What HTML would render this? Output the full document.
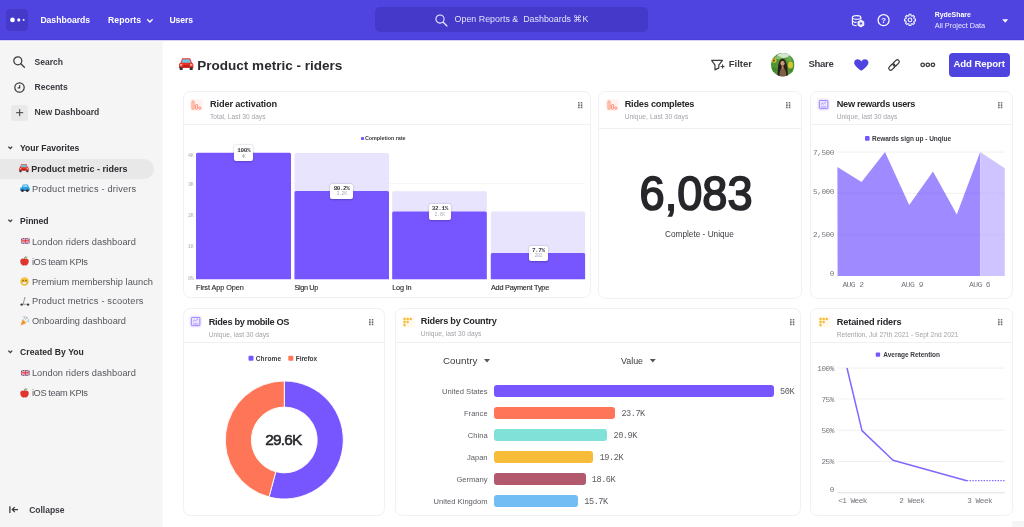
<!DOCTYPE html>
<html lang="en">
<head>
<meta charset="utf-8">
<title>Product metric - riders</title>
<style>
*{box-sizing:border-box;margin:0;padding:0}
html,body{width:1024px;height:527px;overflow:hidden;background:#fff}
body{position:relative;font-family:"Liberation Sans",Arial,sans-serif;color:#26262b}
.a{position:absolute}
svg{position:absolute;overflow:visible}
.t{position:absolute;white-space:nowrap;line-height:1;font-family:"Liberation Sans",Arial,sans-serif}
.m{font-family:"Liberation Mono","DejaVu Sans Mono",monospace}
.card{position:absolute;background:#fff;border:1.3px solid #f1f1f3;border-radius:7.5px}
.card i{position:absolute;left:0;right:0;height:1.2px;background:#f0f0f2}
.grip{position:absolute;width:5px;height:7px}
.grip b{position:absolute;width:1.5px;height:1.5px;background:#66666d;border-radius:50%}
.tip{position:absolute;background:#fff;border-radius:2px;box-shadow:0 0.5px 2px rgba(40,30,90,.35)}
.pb{position:absolute;background:#7856ff;border-radius:1.5px 1.5px 0 0}
.lb{position:absolute;background:#e9e4fd;border-radius:1.5px 1.5px 0 0}
.hb{position:absolute;height:12px;border-radius:3px;left:494px}
</style>
</head>
<body>
<!-- NAV -->
<div class="a" style="left:0;top:0;width:1024px;height:40.3px;background:#4f44e0;border-bottom:1.5px solid #493ed8"></div>
<div class="a" style="left:6.3px;top:9.2px;width:22.2px;height:22px;border-radius:4px;background:#4439c9"></div>
<svg style="left:0;top:0" width="30" height="40" viewBox="0 0 30 40"><circle cx="12.5" cy="19.9" r="2.35" fill="#fff"/><circle cx="18.75" cy="19.9" r="1.55" fill="#fff"/><circle cx="23.65" cy="19.9" r="0.95" fill="#fff"/></svg>
<svg style="left:145.5px;top:17.6px" width="8" height="6" viewBox="0 0 8 6"><path d="M1.2 1.3 L3.9 4 L6.6 1.3" fill="none" stroke="#fff" stroke-width="1.25"/></svg>
<div class="a" style="left:375.3px;top:6.5px;width:273.2px;height:25px;border-radius:5px;background:#4439c9"></div>
<svg style="left:434.5px;top:13.8px" width="13" height="13" viewBox="0 0 13 13"><circle cx="5" cy="5" r="4.1" fill="none" stroke="#f0effd" stroke-width="1.05"/><path d="M8 8 L12 12" stroke="#f0effd" stroke-width="1.15" stroke-linecap="round"/></svg>
<!-- nav right icons -->
<svg style="left:851px;top:14px" width="14" height="14" viewBox="0 0 14 14" fill="none" stroke="#fff" stroke-width="1.1">
  <ellipse cx="5.6" cy="3.4" rx="4.2" ry="1.8"/>
  <path d="M1.4 3.4 V9.8 C1.4 10.8 3.2 11.6 5.6 11.6"/>
  <path d="M9.8 3.4 V5.6"/>
  <path d="M1.4 6.6 C1.4 7.6 3.2 8.4 5.6 8.4"/>
  <path d="M9.9 6.3 L12.7 7.9 V11.1 L9.9 12.7 L7.1 11.1 V7.9 Z" fill="#d9d6f8" stroke-linejoin="round"/>
  <circle cx="9.9" cy="9.5" r="1.1" fill="#4f44e0" stroke="none"/>
</svg>
<svg style="left:876.8px;top:14.2px" width="13" height="13" viewBox="0 0 13 13"><circle cx="6.6" cy="6.2" r="5.5" fill="none" stroke="#fff" stroke-width="1.25"/></svg>
<div class="t" style="left:881.2px;top:16.6px;font-size:7.8px;font-weight:700;color:#fff">?</div>
<svg style="left:904px;top:14.4px" width="12.4" height="12.4" viewBox="0 0 13 13" fill="none" stroke="#fff" stroke-linejoin="round"><path d="M10.67 5.11 L12.11 5.18 L12.11 7.22 L10.67 7.29 L10.16 8.52 L11.13 9.58 L9.68 11.03 L8.62 10.06 L7.39 10.57 L7.32 12.01 L5.28 12.01 L5.21 10.57 L3.98 10.06 L2.92 11.03 L1.47 9.58 L2.44 8.52 L1.93 7.29 L0.49 7.22 L0.49 5.18 L1.93 5.11 L2.44 3.88 L1.47 2.82 L2.92 1.37 L3.98 2.34 L5.21 1.83 L5.28 0.39 L7.32 0.39 L7.39 1.83 L8.62 2.34 L9.68 1.37 L11.13 2.82 L10.16 3.88 Z" stroke-width="1.05"/><circle cx="6.3" cy="6.2" r="1.9" stroke-width="1.05"/></svg>
<svg style="left:1002.2px;top:18.9px" width="7" height="4" viewBox="0 0 7 4"><path d="M0.2 0.2 L6.2 0.2 L3.2 3.7 Z" fill="#fff"/></svg>

<!-- SIDEBAR -->
<div class="a" style="left:0;top:40px;width:1024px;height:1px;background:#d6d3f7"></div>
<div class="a" style="left:0;top:41px;width:162px;height:486px;background:linear-gradient(#fafafa 0,#fafafa 1px,#f5f5f5 1px);border-right:1px solid #f9f9f9;box-sizing:content-box"></div>
<svg style="left:13px;top:55.8px" width="12" height="12" viewBox="0 0 12 12"><circle cx="4.8" cy="4.8" r="4" fill="none" stroke="#3b3b41" stroke-width="1.25"/><path d="M7.8 7.8 L11.4 11.2" stroke="#3b3b41" stroke-width="1.3" stroke-linecap="round"/></svg>
<svg style="left:14.1px;top:81.6px" width="11" height="11" viewBox="0 0 11 11"><circle cx="5.5" cy="5.5" r="4.7" fill="none" stroke="#3b3b41" stroke-width="1.2"/><path d="M5.7 2.9 V5.8 H3.6" fill="none" stroke="#3b3b41" stroke-width="1.15"/></svg>
<div class="a" style="left:11.2px;top:104.5px;width:16.4px;height:16px;border-radius:3px;background:#e9e9e9"></div>
<svg style="left:16px;top:108.8px" width="8" height="8" viewBox="0 0 8 8"><path d="M3.7 0.2 V7.2 M0.2 3.7 H7.2" stroke="#3b3b41" stroke-width="1"/></svg>
<!-- chevrons -->
<svg style="left:8px;top:145.8px" width="5" height="4" viewBox="0 0 5 4"><path d="M0.4 0.6 L2.3 2.6 L4.2 0.6" fill="none" stroke="#3b3b41" stroke-width="1.35"/></svg>
<svg style="left:8px;top:218.6px" width="5" height="4" viewBox="0 0 5 4"><path d="M0.4 0.6 L2.3 2.6 L4.2 0.6" fill="none" stroke="#3b3b41" stroke-width="1.35"/></svg>
<svg style="left:8px;top:350.2px" width="5" height="4" viewBox="0 0 5 4"><path d="M0.4 0.6 L2.3 2.6 L4.2 0.6" fill="none" stroke="#3b3b41" stroke-width="1.35"/></svg>
<div class="a" style="left:0;top:159.3px;width:154.2px;height:19.7px;border-radius:0 10px 10px 0;background:#e8e8e8"></div>
<!-- collapse icon -->
<svg style="left:9px;top:505.8px" width="10" height="8" viewBox="0 0 10 8"><path d="M0.9 0.2 V7 M9 3.6 H3.4 M5.8 1.1 L3.3 3.6 L5.8 6.1" fill="none" stroke="#3b3b41" stroke-width="1.3"/></svg>

<!-- emoji icons (sidebar) -->
<!-- red car front -->
<svg style="left:19.2px;top:164.1px" width="9.8" height="8.3" viewBox="0 0 20 17"><path d="M4.5 0.5 H15.5 L18 6.5 Q20 7 20 9.5 V14 H0 V9.5 Q0 7 2 6.5 Z" fill="#e8302a"/><path d="M5.3 1.6 H14.7 L16.6 6.6 H3.4 Z" fill="#6fc3dc"/><rect x="0.8" y="13" width="4.4" height="3.8" rx="1" fill="#33333a"/><rect x="14.8" y="13" width="4.4" height="3.8" rx="1" fill="#33333a"/><rect x="5.5" y="10" width="9" height="2.6" rx="1" fill="#b3221e"/><rect x="1.3" y="8.6" width="3.4" height="2" rx="1" fill="#ffe0b0"/><rect x="15.3" y="8.6" width="3.4" height="2" rx="1" fill="#ffe0b0"/></svg>
<!-- blue car -->
<svg style="left:19.9px;top:183.8px" width="9.8" height="8.2" viewBox="0 0 20 17"><path d="M7 0.8 H15 Q16 0.8 16.5 2 L18.3 6.6 Q20 7.2 20 9.6 V13 H0 V9.2 Q0 7.4 3.4 6.6 L5.8 1.8 Q6.2 0.8 7 0.8 Z" fill="#27a0e6"/><path d="M7.4 2.2 H14.6 L16.2 6.4 H5.4 Z" fill="#8fd3f2"/><rect x="1" y="12.2" width="18" height="2" fill="#2a4a66"/><circle cx="5" cy="13.8" r="2.7" fill="#2d2d33"/><circle cx="15" cy="13.8" r="2.7" fill="#2d2d33"/></svg>
<!-- UK flags -->
<svg style="left:20.5px;top:238.2px" width="8.6" height="5.8" viewBox="0 0 18 12"><rect width="18" height="12" rx="1.5" fill="#34408f"/><path d="M0 0 L18 12 M18 0 L0 12" stroke="#fff" stroke-width="2.6"/><path d="M0 0 L18 12 M18 0 L0 12" stroke="#d9333f" stroke-width="1"/><path d="M9 0 V12 M0 6 H18" stroke="#fff" stroke-width="4"/><path d="M9 0 V12 M0 6 H18" stroke="#d9333f" stroke-width="2.2"/></svg>
<svg style="left:20.5px;top:369.6px" width="8.6" height="5.8" viewBox="0 0 18 12"><rect width="18" height="12" rx="1.5" fill="#34408f"/><path d="M0 0 L18 12 M18 0 L0 12" stroke="#fff" stroke-width="2.6"/><path d="M0 0 L18 12 M18 0 L0 12" stroke="#d9333f" stroke-width="1"/><path d="M9 0 V12 M0 6 H18" stroke="#fff" stroke-width="4"/><path d="M9 0 V12 M0 6 H18" stroke="#d9333f" stroke-width="2.2"/></svg>
<!-- apples -->
<svg style="left:20.1px;top:256.4px" width="9" height="9.6" viewBox="0 0 18 19"><path d="M9 6 C6 3.5 0.5 4.5 0.5 10.5 C0.5 15.5 4 19 6.5 19 C8 19 8.3 18.4 9 18.4 C9.7 18.4 10 19 11.5 19 C14 19 17.5 15.5 17.5 10.5 C17.5 4.5 12 3.5 9 6 Z" fill="#e0352f"/><path d="M9 6 C9 3.5 9.8 2 11 0.8" stroke="#6b4423" stroke-width="1.4" fill="none"/><path d="M10 3.4 C11.5 1 14.5 1 15.5 1.6 C14.5 3.8 12 4.4 10 3.4 Z" fill="#5ea53a"/></svg>
<svg style="left:20.1px;top:387.8px" width="9" height="9.6" viewBox="0 0 18 19"><path d="M9 6 C6 3.5 0.5 4.5 0.5 10.5 C0.5 15.5 4 19 6.5 19 C8 19 8.3 18.4 9 18.4 C9.7 18.4 10 19 11.5 19 C14 19 17.5 15.5 17.5 10.5 C17.5 4.5 12 3.5 9 6 Z" fill="#e0352f"/><path d="M9 6 C9 3.5 9.8 2 11 0.8" stroke="#6b4423" stroke-width="1.4" fill="none"/><path d="M10 3.4 C11.5 1 14.5 1 15.5 1.6 C14.5 3.8 12 4.4 10 3.4 Z" fill="#5ea53a"/></svg>
<!-- smiley -->
<svg style="left:20.1px;top:277px" width="9" height="9" viewBox="0 0 18 18"><circle cx="9" cy="9" r="8.6" fill="#f8c23c"/><circle cx="6" cy="7" r="1.3" fill="#5b4210"/><circle cx="12" cy="7" r="1.3" fill="#5b4210"/><path d="M4 10 H14 C14 13.5 11.5 15 9 15 C6.5 15 4 13.5 4 10 Z" fill="#fff" stroke="#a06a10" stroke-width="0.8"/></svg>
<!-- scooter -->
<svg style="left:20px;top:296.6px" width="9.6" height="9" viewBox="0 0 19 18"><path d="M8 1.5 H10.5 M9.5 1.5 L6 14.5 H13" fill="none" stroke="#7a7d84" stroke-width="1.6"/><circle cx="3.2" cy="15.2" r="2.4" fill="#33363d"/><circle cx="16" cy="15.2" r="2.4" fill="#33363d"/></svg>
<!-- party popper -->
<svg style="left:20px;top:315.6px" width="9.6" height="10" viewBox="0 0 19 20"><path d="M5.5 6 L13 13.5 L1 19.5 Z" fill="#f2b13d"/><path d="M4.2 9.5 L9 15.5 M2.8 13.5 L5.5 17" stroke="#e2574c" stroke-width="1.5"/><circle cx="13.5" cy="2.5" r="1.2" fill="#e2574c"/><circle cx="17" cy="8" r="1.2" fill="#5a8ee0"/><circle cx="8" cy="1.8" r="1.1" fill="#8d62d9"/><path d="M11 8 C11 5 13 4.5 15.5 5 M13 11 C15 9.5 17 10.5 18 12.5 M8.5 5.5 C9.5 4 9 2.5 10.5 1" fill="none" stroke="#4fb6c8" stroke-width="1.1"/></svg>

<!-- HEADER -->
<svg style="left:179.4px;top:57.8px" width="14.4" height="12.2" viewBox="0 0 20 17"><path d="M4.5 0.5 H15.5 L18 6.5 Q20 7 20 9.5 V14 H0 V9.5 Q0 7 2 6.5 Z" fill="#e8302a"/><path d="M5.3 1.6 H14.7 L16.6 6.6 H3.4 Z" fill="#6fc3dc"/><rect x="0.8" y="13" width="4.4" height="3.8" rx="1" fill="#33333a"/><rect x="14.8" y="13" width="4.4" height="3.8" rx="1" fill="#33333a"/><rect x="5.5" y="10" width="9" height="2.6" rx="1" fill="#b3221e"/><rect x="1.3" y="8.6" width="3.4" height="2" rx="1" fill="#ffe0b0"/><rect x="15.3" y="8.6" width="3.4" height="2" rx="1" fill="#ffe0b0"/></svg>
<!-- filter icon -->
<svg style="left:711px;top:58.6px" width="14" height="12" viewBox="0 0 14 12" fill="none" stroke="#3b3b41" stroke-width="1.2" stroke-linejoin="round"><path d="M0.7 1.3 H11.4 L7.8 6.2 V8.9 L4 10.9 V6.2 Z"/><path d="M11.6 5.6 V9.4 M9.7 7.5 H13.5" stroke-width="1.1"/></svg>
<!-- avatar -->
<svg style="left:770.9px;top:53px" width="23.5" height="23.5" viewBox="0 0 47 47">
  <defs><clipPath id="av"><circle cx="23.5" cy="23.5" r="23.5"/></clipPath></defs>
  <g clip-path="url(#av)">
    <rect width="47" height="47" fill="#4e9636"/>
    <ellipse cx="25" cy="5" rx="12" ry="5" fill="#d5e6cf"/>
    <ellipse cx="14" cy="9" rx="6" ry="3" fill="#8fc07a"/>
    <circle cx="36" cy="12" r="5" fill="#6aa84f"/>
    <circle cx="6.5" cy="15" r="4.6" fill="#e5b92c"/><circle cx="6" cy="15" r="2" fill="#5a4216"/>
    <ellipse cx="39" cy="24" rx="5" ry="7" fill="#d8c433"/>
    <circle cx="41" cy="36" r="4" fill="#3f8a2d"/><circle cx="6" cy="33" r="5" fill="#3f8a2d"/>
    <path d="M13 47 C13 26 15 12 23 12 C31 12 33 26 34 47 Z" fill="#2b1d17"/>
    <ellipse cx="23" cy="20.5" rx="4.2" ry="5.2" fill="#c99a7d"/>
    <path d="M17 47 C17 36 19 30 23.5 30 C28 30 30 36 31 47 Z" fill="#7d5f45"/>
    <path d="M21.5 26 H25 V32 H21.5 Z" fill="#b98a6e"/>
  </g>
</svg>
<!-- heart -->
<svg style="left:853.6px;top:59.4px" width="14.6" height="12.2" viewBox="0 0 24 20"><path d="M12 19.5 C3 13 0.3 9.5 0.3 5.8 C0.3 2.6 2.8 0.3 5.9 0.3 C8.3 0.3 10.6 1.6 12 3.9 C13.4 1.6 15.7 0.3 18.1 0.3 C21.2 0.3 23.7 2.6 23.7 5.8 C23.7 9.5 21 13 12 19.5 Z" fill="#4f44e0"/></svg>
<!-- link -->
<svg style="left:888.4px;top:58.8px" width="12" height="12" viewBox="0 0 12 12" fill="none" stroke="#3b3b41" stroke-width="1.25"><g transform="rotate(-45 6 6)"><rect x="-0.6" y="4.05" width="7.3" height="3.9" rx="1.95"/><rect x="5.3" y="4.05" width="7.3" height="3.9" rx="1.95"/></g></svg>
<!-- ooo -->
<svg style="left:920px;top:62px" width="16" height="6" viewBox="0 0 16 6" fill="none" stroke="#3b3b41" stroke-width="1.35"><circle cx="2.7" cy="2.8" r="1.75"/><circle cx="7.8" cy="2.8" r="1.75"/><circle cx="12.9" cy="2.8" r="1.75"/></svg>
<div class="a" style="left:948.6px;top:53.3px;width:61.6px;height:23.3px;border-radius:4px;background:#4f44e0"></div>

<!-- CARDS -->
<div class="card" style="left:182.6px;top:90.6px;width:408px;height:207.8px"><i style="top:32.1px"></i></div>
<div class="card" style="left:598.4px;top:90.6px;width:203.2px;height:208px"><i style="top:36px"></i></div>
<div class="card" style="left:810px;top:90.6px;width:202.6px;height:208px"><i style="top:32.1px"></i></div>
<div class="card" style="left:182.6px;top:308px;width:202.8px;height:208.4px"><i style="top:32.6px"></i></div>
<div class="card" style="left:394.6px;top:308px;width:406px;height:208.4px"><i style="top:32.6px"></i></div>
<div class="card" style="left:810px;top:308px;width:202.6px;height:207.6px"><i style="top:32.6px"></i></div>
<div class="a" style="left:1012px;top:520.6px;width:12px;height:7px;background:#f5f5f5"></div>

<!-- charts -->
<svg style="left:577.8px;top:102px" width="5" height="7" viewBox="0 0 5 7"><rect x="0" y="0" width="1.7" height="1.6" rx="0.5" fill="#6e6e75"/><rect x="0" y="2.3" width="1.7" height="1.6" rx="0.5" fill="#6e6e75"/><rect x="0" y="4.6" width="1.7" height="1.6" rx="0.5" fill="#6e6e75"/><rect x="2.7" y="0" width="1.7" height="1.6" rx="0.5" fill="#6e6e75"/><rect x="2.7" y="2.3" width="1.7" height="1.6" rx="0.5" fill="#6e6e75"/><rect x="2.7" y="4.6" width="1.7" height="1.6" rx="0.5" fill="#6e6e75"/></svg>
<svg style="left:786.4px;top:102px" width="5" height="7" viewBox="0 0 5 7"><rect x="0" y="0" width="1.7" height="1.6" rx="0.5" fill="#6e6e75"/><rect x="0" y="2.3" width="1.7" height="1.6" rx="0.5" fill="#6e6e75"/><rect x="0" y="4.6" width="1.7" height="1.6" rx="0.5" fill="#6e6e75"/><rect x="2.7" y="0" width="1.7" height="1.6" rx="0.5" fill="#6e6e75"/><rect x="2.7" y="2.3" width="1.7" height="1.6" rx="0.5" fill="#6e6e75"/><rect x="2.7" y="4.6" width="1.7" height="1.6" rx="0.5" fill="#6e6e75"/></svg>
<svg style="left:997.6px;top:102px" width="5" height="7" viewBox="0 0 5 7"><rect x="0" y="0" width="1.7" height="1.6" rx="0.5" fill="#6e6e75"/><rect x="0" y="2.3" width="1.7" height="1.6" rx="0.5" fill="#6e6e75"/><rect x="0" y="4.6" width="1.7" height="1.6" rx="0.5" fill="#6e6e75"/><rect x="2.7" y="0" width="1.7" height="1.6" rx="0.5" fill="#6e6e75"/><rect x="2.7" y="2.3" width="1.7" height="1.6" rx="0.5" fill="#6e6e75"/><rect x="2.7" y="4.6" width="1.7" height="1.6" rx="0.5" fill="#6e6e75"/></svg>
<svg style="left:368.8px;top:319px" width="5" height="7" viewBox="0 0 5 7"><rect x="0" y="0" width="1.7" height="1.6" rx="0.5" fill="#6e6e75"/><rect x="0" y="2.3" width="1.7" height="1.6" rx="0.5" fill="#6e6e75"/><rect x="0" y="4.6" width="1.7" height="1.6" rx="0.5" fill="#6e6e75"/><rect x="2.7" y="0" width="1.7" height="1.6" rx="0.5" fill="#6e6e75"/><rect x="2.7" y="2.3" width="1.7" height="1.6" rx="0.5" fill="#6e6e75"/><rect x="2.7" y="4.6" width="1.7" height="1.6" rx="0.5" fill="#6e6e75"/></svg>
<svg style="left:789.6px;top:319px" width="5" height="7" viewBox="0 0 5 7"><rect x="0" y="0" width="1.7" height="1.6" rx="0.5" fill="#6e6e75"/><rect x="0" y="2.3" width="1.7" height="1.6" rx="0.5" fill="#6e6e75"/><rect x="0" y="4.6" width="1.7" height="1.6" rx="0.5" fill="#6e6e75"/><rect x="2.7" y="0" width="1.7" height="1.6" rx="0.5" fill="#6e6e75"/><rect x="2.7" y="2.3" width="1.7" height="1.6" rx="0.5" fill="#6e6e75"/><rect x="2.7" y="4.6" width="1.7" height="1.6" rx="0.5" fill="#6e6e75"/></svg>
<svg style="left:997.6px;top:319px" width="5" height="7" viewBox="0 0 5 7"><rect x="0" y="0" width="1.7" height="1.6" rx="0.5" fill="#6e6e75"/><rect x="0" y="2.3" width="1.7" height="1.6" rx="0.5" fill="#6e6e75"/><rect x="0" y="4.6" width="1.7" height="1.6" rx="0.5" fill="#6e6e75"/><rect x="2.7" y="0" width="1.7" height="1.6" rx="0.5" fill="#6e6e75"/><rect x="2.7" y="2.3" width="1.7" height="1.6" rx="0.5" fill="#6e6e75"/><rect x="2.7" y="4.6" width="1.7" height="1.6" rx="0.5" fill="#6e6e75"/></svg>
<svg style="left:189.8px;top:98.6px" width="12.4" height="12" viewBox="0 0 12.4 12"><rect width="12.4" height="12" rx="2" fill="#fff2ef"/><rect x="2" y="1.9" width="2.1" height="8.4" rx="0.8" fill="#ffe3dc" stroke="#ff7557" stroke-width="0.75"/><rect x="5.5" y="5.5" width="2.1" height="4.8" rx="0.8" fill="#ffe3dc" stroke="#ff7557" stroke-width="0.75"/><rect x="8.7" y="7.9" width="2.1" height="2.4" rx="0.8" fill="#ffe3dc" stroke="#ff7557" stroke-width="0.75"/></svg>
<svg style="left:605.8px;top:98.6px" width="12.4" height="12" viewBox="0 0 12.4 12"><rect width="12.4" height="12" rx="2" fill="#fff2ef"/><rect x="2" y="1.9" width="2.1" height="8.4" rx="0.8" fill="#ffe3dc" stroke="#ff7557" stroke-width="0.75"/><rect x="5.5" y="5.5" width="2.1" height="4.8" rx="0.8" fill="#ffe3dc" stroke="#ff7557" stroke-width="0.75"/><rect x="8.7" y="7.9" width="2.1" height="2.4" rx="0.8" fill="#ffe3dc" stroke="#ff7557" stroke-width="0.75"/></svg>
<svg style="left:817px;top:98px" width="13" height="13" viewBox="0 0 13 13"><rect width="13" height="13" rx="2.5" fill="#f6f3ff"/><rect x="2.3" y="2.4" width="8.6" height="8.3" rx="0.8" fill="#ece6ff" stroke="#9b7dff" stroke-width="1"/><path d="M3.9 6.6 L5.4 5.2 L6.4 6.1 L8.9 3.9" fill="none" stroke="#9b7dff" stroke-width="0.8"/><path d="M4 8.9 H9.2" stroke="#b9a4ff" stroke-width="1.2"/></svg>
<svg style="left:189.2px;top:315.4px" width="13" height="13" viewBox="0 0 13 13"><rect width="13" height="13" rx="2.5" fill="#f6f3ff"/><rect x="2.3" y="2.4" width="8.6" height="8.3" rx="0.8" fill="#ece6ff" stroke="#9b7dff" stroke-width="1"/><path d="M3.9 6.6 L5.4 5.2 L6.4 6.1 L8.9 3.9" fill="none" stroke="#9b7dff" stroke-width="0.8"/><path d="M4 8.9 H9.2" stroke="#b9a4ff" stroke-width="1.2"/></svg>
<svg style="left:401.6px;top:316.2px" width="12.6" height="12" viewBox="0 0 12.6 12"><rect width="12.6" height="12" rx="2" fill="#fffaf0"/><rect x="1.3" y="1.8" width="2.5" height="2.4" rx="0.9" fill="#f8bc3b"/><rect x="4.4" y="1.8" width="2.5" height="2.4" rx="0.9" fill="#f8bc3b"/><rect x="7.5" y="1.8" width="2.5" height="2.4" rx="0.9" fill="#f8bc3b"/><rect x="1.3" y="4.8" width="2.5" height="2.4" rx="0.9" fill="#f8bc3b"/><rect x="4.4" y="4.8" width="2.5" height="2.4" rx="0.9" fill="#f8bc3b"/><rect x="1.3" y="7.8" width="2.5" height="2.4" rx="0.9" fill="#f8bc3b"/></svg>
<svg style="left:817.9px;top:316.2px" width="12.6" height="12" viewBox="0 0 12.6 12"><rect width="12.6" height="12" rx="2" fill="#fffaf0"/><rect x="1.3" y="1.8" width="2.5" height="2.4" rx="0.9" fill="#f8bc3b"/><rect x="4.4" y="1.8" width="2.5" height="2.4" rx="0.9" fill="#f8bc3b"/><rect x="7.5" y="1.8" width="2.5" height="2.4" rx="0.9" fill="#f8bc3b"/><rect x="1.3" y="4.8" width="2.5" height="2.4" rx="0.9" fill="#f8bc3b"/><rect x="4.4" y="4.8" width="2.5" height="2.4" rx="0.9" fill="#f8bc3b"/><rect x="1.3" y="7.8" width="2.5" height="2.4" rx="0.9" fill="#f8bc3b"/></svg>
<div class="a" style="left:196px;top:183px;width:389px;height:1px;background:#f7f7f9"></div>
<svg style="left:0;top:0" width="1024" height="527" viewBox="0 0 1024 527"><path d="M196 279.2 V154.3 Q196 152.8 197.5 152.8 H289.5 Q291 152.8 291 154.3 V279.2 Z" fill="#7856ff"/><path d="M294.5 279.2 V154.5 Q294.5 153 296.0 153 H387.5 Q389 153 389 154.5 V279.2 Z" fill="#e9e4fd"/><path d="M294.5 279.2 V192.4 Q294.5 190.9 296.0 190.9 H387.5 Q389 190.9 389 192.4 V279.2 Z" fill="#7856ff"/><path d="M392.2 279.2 V192.8 Q392.2 191.3 393.7 191.3 H485.3 Q486.8 191.3 486.8 192.8 V279.2 Z" fill="#e9e4fd"/><path d="M392.2 279.2 V212.9 Q392.2 211.4 393.7 211.4 H485.3 Q486.8 211.4 486.8 212.9 V279.2 Z" fill="#7856ff"/><path d="M490.8 279.2 V213.0 Q490.8 211.5 492.3 211.5 H583.6 Q585.1 211.5 585.1 213.0 V279.2 Z" fill="#e9e4fd"/><path d="M490.8 279.2 V254.4 Q490.8 252.9 492.3 252.9 H583.6 Q585.1 252.9 585.1 254.4 V279.2 Z" fill="#7856ff"/></svg>
<div class="tip" style="left:234px;top:145px;width:18.8px;height:16.2px"></div>
<div class="tip" style="left:330.4px;top:183.6px;width:22.6px;height:15.2px"></div>
<div class="tip" style="left:428.6px;top:204.4px;width:22.6px;height:15.2px"></div>
<div class="tip" style="left:529.1px;top:245.8px;width:18.6px;height:15.2px"></div>
<div class="a" style="left:360.5px;top:136.7px;width:3.4px;height:3.4px;border-radius:0.7px;background:#7856ff"></div>
<svg style="left:0;top:0" width="1024" height="527" viewBox="0 0 1024 527"><path d="M837.6 152 H1004.8" stroke="#f0f0f2" stroke-width="1"/><path d="M837.6 193.3 H1004.8" stroke="#f0f0f2" stroke-width="1"/><path d="M837.6 234.7 H1004.8" stroke="#f0f0f2" stroke-width="1"/><path d="M837.4 167 L861.6 182 L885 152 L909.2 205 L933 171.6 L956.8 214.6 L980.2 152 L980.2 276 L837.6 276 Z" fill="#a08aff"/><path d="M980.2 152 L1004.8 168.3 L1004.8 276 L980.2 276 Z" fill="#cfc4ff"/><defs><clipPath id="ca"><path d="M837.4 167 L861.6 182 L885 152 L909.2 205 L933 171.6 L956.8 214.6 L980.2 152 L980.2 276 L837.6 276 Z"/></clipPath><clipPath id="cb"><path d="M980.2 152 L1004.8 168.3 L1004.8 276 L980.2 276 Z"/></clipPath></defs><path clip-path="url(#ca)" d="M837.6 193.3 H1004.8 M837.6 234.7 H1004.8" stroke="#9982fb" stroke-width="0.8"/><path clip-path="url(#cb)" d="M837.6 193.3 H1004.8 M837.6 234.7 H1004.8" stroke="#c8bcfd" stroke-width="0.8"/><rect x="865" y="136.1" width="4.6" height="4.6" rx="0.8" fill="#7856ff"/><path d="M837.4 368 H1004.8" stroke="#f0f0f2" stroke-width="1"/><path d="M837.4 398.9 H1004.8" stroke="#f0f0f2" stroke-width="1"/><path d="M837.4 430.2 H1004.8" stroke="#f0f0f2" stroke-width="1"/><path d="M837.4 461.5 H1004.8" stroke="#f0f0f2" stroke-width="1"/><path d="M837.4 492.8 H1004.8" stroke="#dcdce2" stroke-width="0.9"/><path d="M847 368 L862 430.6 L893 460.2 L966.8 480.7" fill="none" stroke="#8465ff" stroke-width="1.5" stroke-linejoin="round"/><path d="M966.8 480.7 H1005.7" fill="none" stroke="#8465ff" stroke-width="1.3" stroke-dasharray="1.4 1.4"/><rect x="875.8" y="352.5" width="4.3" height="4.3" rx="0.8" fill="#7856ff"/><path d="M284.30 381.00 A59 59 0 1 1 269.03 496.99 L275.78 471.78 A32.9 32.9 0 1 0 284.30 407.10 Z" fill="#7856ff" stroke="#fff" stroke-width="0.9"/><path d="M269.03 496.99 A59 59 0 0 1 284.30 381.00 L284.30 407.10 A32.9 32.9 0 0 0 275.78 471.78 Z" fill="#ff7557" stroke="#fff" stroke-width="0.9"/><rect x="248.5" y="355.8" width="5" height="5" rx="1" fill="#7856ff"/><rect x="288.3" y="355.8" width="5" height="5" rx="1" fill="#ff7557"/><path d="M484 359 H490 L487 362.4 Z" fill="#55555c"/><path d="M649.8 359 H655.8 L652.8 362.4 Z" fill="#55555c"/></svg>
<div class="hb" style="top:385.2px;width:279.8px;background:#7856ff"></div>
<div class="hb" style="top:407.2px;width:121.1px;background:#ff7557"></div>
<div class="hb" style="top:429.2px;width:113.2px;background:#80e1d9"></div>
<div class="hb" style="top:451.2px;width:99.4px;background:#f8bc3b"></div>
<div class="hb" style="top:473.2px;width:91.5px;background:#b2596e"></div>
<div class="hb" style="top:495.2px;width:84.0px;background:#72bef4"></div>

<!-- text -->
<div class="t" style="left:40.4px;top:16px;font-size:8.65px;font-weight:700;color:#fff;letter-spacing:-0.021px">Dashboards</div>
<div class="t" style="left:108px;top:16px;font-size:8.65px;font-weight:700;color:#fff;letter-spacing:0.086px">Reports</div>
<div class="t" style="left:169.5px;top:16px;font-size:8.65px;font-weight:700;color:#fff;letter-spacing:-0.136px">Users</div>
<div class="t" style="left:454.6px;top:15px;font-size:8.89px;color:#e2e0fa">Open Reports &amp;&nbsp; Dashboards ⌘K</div>
<div class="t" style="left:934.7px;top:12px;font-size:6.91px;font-weight:700;color:#fff">RydeShare</div>
<div class="t" style="left:934.7px;top:22px;font-size:7.33px;color:#ecebfd">All Project Data</div>
<div class="t" style="left:34.5px;top:58px;font-size:8.55px;font-weight:700;color:#3b3b41;letter-spacing:-0.004px">Search</div>
<div class="t" style="left:34.5px;top:83px;font-size:8.55px;font-weight:700;color:#3b3b41;letter-spacing:-0.011px">Recents</div>
<div class="t" style="left:34.5px;top:108px;font-size:8.55px;font-weight:700;color:#3b3b41;letter-spacing:0.016px">New Dashboard</div>
<div class="t" style="left:20.0px;top:144px;font-size:8.6px;font-weight:700;color:#2a2a2f;letter-spacing:-0.021px">Your Favorites</div>
<div class="t" style="left:31.3px;top:165px;font-size:8.97px;font-weight:700;color:#2a2a2f">Product metric - riders</div>
<div class="t" style="left:31.9px;top:185px;font-size:9.25px;color:#55555c;letter-spacing:0.17px">Product metrics - drivers</div>
<div class="t" style="left:20.1px;top:217px;font-size:8.6px;font-weight:700;color:#2a2a2f;letter-spacing:-0.034px">Pinned</div>
<div class="t" style="left:31.9px;top:238px;font-size:9.25px;color:#55555c;letter-spacing:0.052px">London riders dashboard</div>
<div class="t" style="left:31.9px;top:258px;font-size:9.25px;color:#55555c;letter-spacing:-0.38px">iOS team KPIs</div>
<div class="t" style="left:31.9px;top:278px;font-size:9.25px;color:#55555c;letter-spacing:0.033px">Premium membership launch</div>
<div class="t" style="left:31.9px;top:297px;font-size:9.25px;color:#55555c;letter-spacing:0.167px">Product metrics - scooters</div>
<div class="t" style="left:31.9px;top:317px;font-size:9.25px;color:#55555c;letter-spacing:-0.028px">Onboarding dashboard</div>
<div class="t" style="left:20.1px;top:348px;font-size:8.6px;font-weight:700;color:#2a2a2f;letter-spacing:0.043px">Created By You</div>
<div class="t" style="left:31.9px;top:369px;font-size:9.25px;color:#55555c;letter-spacing:0.052px">London riders dashboard</div>
<div class="t" style="left:31.9px;top:389px;font-size:9.25px;color:#55555c;letter-spacing:-0.38px">iOS team KPIs</div>
<div class="t" style="left:29.2px;top:506px;font-size:8.55px;font-weight:700;color:#3b3b41;letter-spacing:-0.034px">Collapse</div>
<div class="t" style="left:197.3px;top:59px;font-size:13.52px;font-weight:700;color:#2a2a2f">Product metric - riders</div>
<div class="t" style="left:728.8px;top:59px;font-size:9.6px;font-weight:700;color:#3b3b41;letter-spacing:-0.054px">Filter</div>
<div class="t" style="left:808.4px;top:59px;font-size:9.6px;font-weight:700;color:#3b3b41;letter-spacing:-0.321px">Share</div>
<div class="t" style="left:953.5px;top:59px;font-size:9.6px;font-weight:700;color:#fff;letter-spacing:-0.085px">Add Report</div>
<div class="t" style="left:210px;top:100px;font-size:9.2px;font-weight:700;color:#26262b;letter-spacing:-0.121px">Rider activation</div>
<div class="t" style="left:210px;top:114px;font-size:6.65px;color:#a3a3aa;letter-spacing:0.008px">Total, Last 30 days</div>
<div class="t" style="left:624.7px;top:100px;font-size:9.2px;font-weight:700;color:#26262b;letter-spacing:-0.23px">Rides completes</div>
<div class="t" style="left:624.7px;top:114px;font-size:6.65px;color:#a3a3aa;letter-spacing:0.064px">Unique, Last 30 days</div>
<div class="t" style="left:836.8px;top:100px;font-size:9.2px;font-weight:700;color:#26262b;letter-spacing:-0.323px">New rewards users</div>
<div class="t" style="left:836.8px;top:114px;font-size:6.65px;color:#a3a3aa;letter-spacing:0.023px">Unique, last 30 days</div>
<div class="t" style="left:208.8px;top:318px;font-size:9.2px;font-weight:700;color:#26262b;letter-spacing:-0.329px">Rides by mobile OS</div>
<div class="t" style="left:208.8px;top:332px;font-size:6.65px;color:#a3a3aa;letter-spacing:0.023px">Unique, last 30 days</div>
<div class="t" style="left:420.8px;top:317px;font-size:9.2px;font-weight:700;color:#26262b;letter-spacing:-0.228px">Riders by Country</div>
<div class="t" style="left:420.8px;top:331px;font-size:6.65px;color:#a3a3aa;letter-spacing:0.023px">Unique, last 30 days</div>
<div class="t" style="left:836.8px;top:318px;font-size:9.2px;font-weight:700;color:#26262b;letter-spacing:-0.148px">Retained riders</div>
<div class="t" style="left:836.8px;top:332px;font-size:6.65px;color:#a3a3aa;letter-spacing:0.011px">Retention, Jul 27th 2021 - Sept 2nd 2021</div>
<div class="t" style="left:365px;top:136px;font-size:5.4px;font-weight:700;color:#3b3b41;letter-spacing:-0.043px">Completion rate</div>
<div class="t m" style="left:188px;top:154px;font-size:4.95px;color:#aaaab2;letter-spacing:-0.27px">4K</div>
<div class="t m" style="left:188px;top:183px;font-size:4.95px;color:#aaaab2;letter-spacing:-0.27px">3K</div>
<div class="t m" style="left:188px;top:214px;font-size:4.95px;color:#aaaab2;letter-spacing:-0.27px">2K</div>
<div class="t m" style="left:188px;top:245px;font-size:4.95px;color:#aaaab2;letter-spacing:-0.27px">1K</div>
<div class="t m" style="left:188px;top:277px;font-size:4.95px;color:#aaaab2;letter-spacing:-0.27px">0%</div>
<div class="t" style="left:196px;top:284px;font-size:7.3px;color:#2a2a2f;letter-spacing:-0.069px;-webkit-text-stroke:0.12px #2a2a2f">First App Open</div>
<div class="t" style="left:294.6px;top:284px;font-size:7.3px;color:#2a2a2f;letter-spacing:-0.395px;-webkit-text-stroke:0.12px #2a2a2f">Sign Up</div>
<div class="t" style="left:392.2px;top:284px;font-size:7.3px;color:#2a2a2f;letter-spacing:-0.159px;-webkit-text-stroke:0.12px #2a2a2f">Log In</div>
<div class="t" style="left:490.9px;top:284px;font-size:7.3px;color:#2a2a2f;letter-spacing:-0.21px;-webkit-text-stroke:0.12px #2a2a2f">Add Payment Type</div>
<div class="t m" style="left:237.3px;top:148px;font-size:6.0px;font-weight:700;color:#3b3b41;letter-spacing:-0.401px">100%</div>
<div class="t m" style="left:241.7px;top:155px;font-size:4.85px;color:#b0b0b8;letter-spacing:-1.522px">4K</div>
<div class="t m" style="left:333.7px;top:186px;font-size:6.0px;font-weight:700;color:#3b3b41;letter-spacing:-0.476px">80.2%</div>
<div class="t m" style="left:336.4px;top:192px;font-size:4.85px;color:#b0b0b8;letter-spacing:-0.314px">3.2K</div>
<div class="t m" style="left:431.7px;top:206px;font-size:6.0px;font-weight:700;color:#3b3b41;letter-spacing:-0.326px">32.1%</div>
<div class="t m" style="left:434.6px;top:213px;font-size:4.85px;color:#b0b0b8;letter-spacing:-0.347px">2.6K</div>
<div class="t m" style="left:531.9px;top:248px;font-size:6.0px;font-weight:700;color:#3b3b41;letter-spacing:-0.434px">7.7%</div>
<div class="t m" style="left:534.5px;top:254px;font-size:4.85px;color:#b0b0b8;letter-spacing:-0.416px">202</div>
<div class="t" style="left:639.6px;top:172px;font-size:45.15px;color:#26262b;-webkit-text-stroke:1.6px #26262b;transform:scaleY(1.045);transform-origin:50% 85%">6,083</div>
<div class="t" style="left:665px;top:231px;font-size:8.26px;color:#3b3b41">Complete - Unique</div>
<div class="t" style="left:872px;top:136px;font-size:6.5px;font-weight:700;color:#3b3b41;letter-spacing:-0.035px">Rewards sign up - Unqiue</div>
<div class="t m" style="right:190px;top:150px;font-size:7.7px;color:#77777f;letter-spacing:-0.42px">7,500</div>
<div class="t m" style="right:190px;top:189px;font-size:7.7px;color:#77777f;letter-spacing:-0.42px">5,000</div>
<div class="t m" style="right:190px;top:232px;font-size:7.7px;color:#77777f;letter-spacing:-0.42px">2,500</div>
<div class="t m" style="right:190px;top:271px;font-size:7.7px;color:#77777f;letter-spacing:-0.42px">0</div>
<div class="t m" style="left:842.4px;top:281px;font-size:8.0px;color:#77777f;letter-spacing:-0.601px">AUG 2</div>
<div class="t m" style="left:901.3px;top:281px;font-size:8.0px;color:#77777f;letter-spacing:-0.426px">AUG 9</div>
<div class="t m" style="left:969px;top:281px;font-size:8.0px;color:#77777f;letter-spacing:-0.601px">AUG 6</div>
<div class="t" style="left:255.7px;top:356px;font-size:6.5px;font-weight:700;color:#3b3b41;letter-spacing:0.188px">Chrome</div>
<div class="t" style="left:295.8px;top:356px;font-size:6.5px;font-weight:700;color:#3b3b41;letter-spacing:-0.079px">Firefox</div>
<div class="t" style="left:265.3px;top:432px;font-size:15.4px;color:#26262b;letter-spacing:-0.811px;-webkit-text-stroke:0.55px #26262b">29.6K</div>
<div class="t" style="left:443px;top:356px;font-size:9.8px;color:#3b3b41">Country</div>
<div class="t" style="left:621px;top:357px;font-size:8.86px;color:#3b3b41">Value</div>
<div class="t" style="right:536.4px;top:388px;font-size:7.6px;color:#5c5c63">United States</div>
<div class="t m" style="left:780.1px;top:388px;font-size:8.58px;color:#5c5c63;letter-spacing:-0.47px">50K</div>
<div class="t" style="right:536.4px;top:410px;font-size:7.6px;color:#5c5c63">France</div>
<div class="t m" style="left:621.4px;top:410px;font-size:8.58px;color:#5c5c63;letter-spacing:-0.47px">23.7K</div>
<div class="t" style="right:536.4px;top:432px;font-size:7.6px;color:#5c5c63">China</div>
<div class="t m" style="left:613.5px;top:432px;font-size:8.58px;color:#5c5c63;letter-spacing:-0.47px">20.9K</div>
<div class="t" style="right:536.4px;top:454px;font-size:7.6px;color:#5c5c63">Japan</div>
<div class="t m" style="left:599.7px;top:454px;font-size:8.58px;color:#5c5c63;letter-spacing:-0.47px">19.2K</div>
<div class="t" style="right:536.4px;top:476px;font-size:7.6px;color:#5c5c63">Germany</div>
<div class="t m" style="left:591.8px;top:476px;font-size:8.58px;color:#5c5c63;letter-spacing:-0.47px">18.6K</div>
<div class="t" style="right:536.4px;top:498px;font-size:7.6px;color:#5c5c63">United Kingdom</div>
<div class="t m" style="left:584.3px;top:498px;font-size:8.58px;color:#5c5c63;letter-spacing:-0.47px">15.7K</div>
<div class="t" style="left:883.3px;top:352px;font-size:6.5px;font-weight:700;color:#3b3b41;letter-spacing:-0.031px">Average Retention</div>
<div class="t m" style="right:190px;top:366px;font-size:7.7px;color:#77777f;letter-spacing:-0.42px">100%</div>
<div class="t m" style="right:190px;top:397px;font-size:7.7px;color:#77777f;letter-spacing:-0.42px">75%</div>
<div class="t m" style="right:190px;top:428px;font-size:7.7px;color:#77777f;letter-spacing:-0.42px">50%</div>
<div class="t m" style="right:190px;top:459px;font-size:7.7px;color:#77777f;letter-spacing:-0.42px">25%</div>
<div class="t m" style="right:190px;top:487px;font-size:7.7px;color:#77777f;letter-spacing:-0.42px">0</div>
<div class="t m" style="left:838.2px;top:498px;font-size:7.75px;color:#77777f;letter-spacing:-0.543px">&lt;1 Week</div>
<div class="t m" style="left:899.2px;top:498px;font-size:7.75px;color:#77777f;letter-spacing:-0.421px">2 Week</div>
<div class="t m" style="left:967.3px;top:498px;font-size:7.75px;color:#77777f;letter-spacing:-0.501px">3 Week</div>
</body>
</html>
